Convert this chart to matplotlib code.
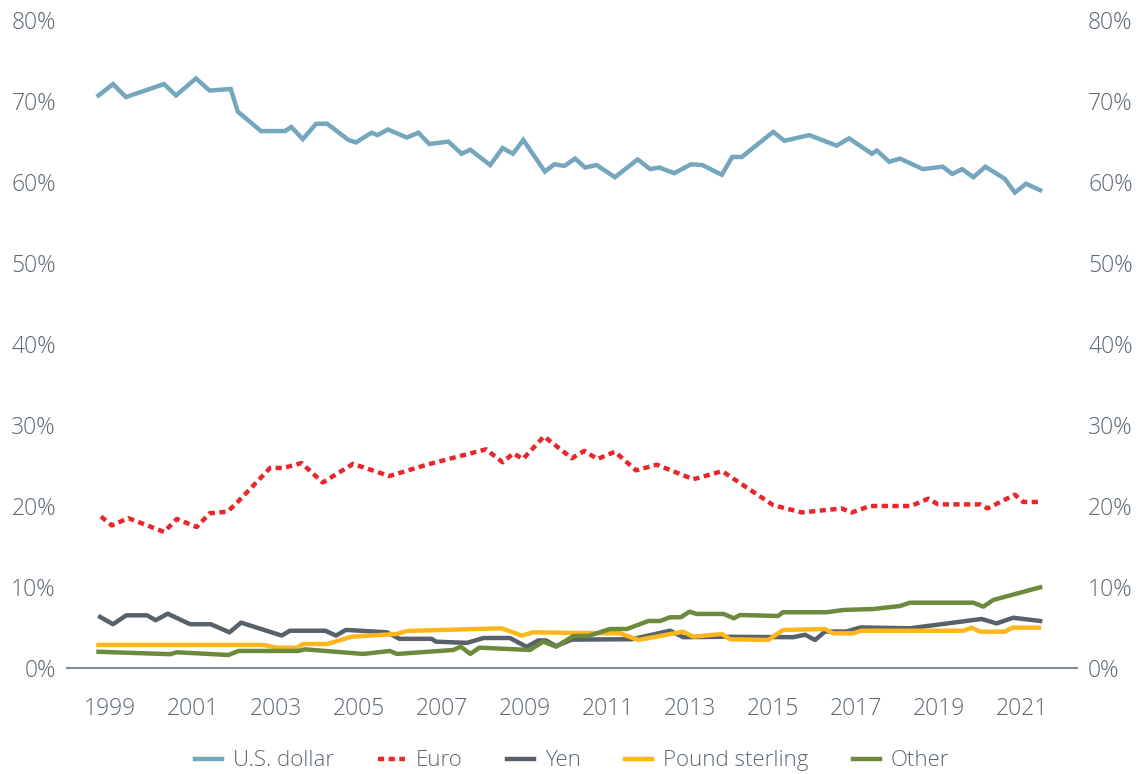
import matplotlib.pyplot as plt
from matplotlib.ticker import FuncFormatter

plt.rcParams['font.family'] = ['Open Sans', 'DejaVu Sans']
plt.rcParams['font.weight'] = 'light'

# share of allocated reserves (%), vertices
usd_x = [1998.72, 1999.07, 1999.38, 2000.30, 2000.59, 2001.07, 2001.40, 2001.91, 2002.08, 2002.64,
         2003.22, 2003.37, 2003.65, 2003.97, 2004.24, 2004.75, 2004.93, 2005.31, 2005.45, 2005.70,
         2006.16, 2006.44, 2006.70, 2007.16, 2007.48, 2007.69, 2008.17, 2008.47, 2008.72, 2008.97,
         2009.49, 2009.72, 2009.96, 2010.22, 2010.46, 2010.74, 2011.18, 2011.73, 2012.03, 2012.25,
         2012.61, 2013.02, 2013.29, 2013.76, 2014.01, 2014.24, 2015.00, 2015.27, 2015.87, 2016.53,
         2016.83, 2017.38, 2017.50, 2017.80, 2018.06, 2018.61, 2019.09, 2019.32, 2019.56, 2019.83,
         2020.12, 2020.59, 2020.83, 2021.10, 2021.44]
usd_y = [70.7, 72.1, 70.5, 72.1, 70.7, 72.8, 71.3, 71.5, 68.7, 66.3,
         66.3, 66.8, 65.3, 67.2, 67.2, 65.2, 64.9, 66.1, 65.8, 66.5,
         65.5, 66.1, 64.7, 65.0, 63.5, 64.0, 62.1, 64.2, 63.5, 65.2,
         61.3, 62.2, 62.0, 62.9, 61.8, 62.1, 60.6, 62.8, 61.6, 61.8,
         61.1, 62.2, 62.1, 60.9, 63.1, 63.1, 66.2, 65.1, 65.8, 64.5,
         65.4, 63.5, 63.9, 62.5, 62.9, 61.6, 61.9, 61.0, 61.6, 60.6,
         61.9, 60.4, 58.7, 59.8, 59.0]

eur_x = [1998.78, 1999.04, 1999.44, 2000.30, 2000.61, 2001.09, 2001.40, 2001.83, 2002.06, 2002.86,
         2003.18, 2003.62, 2004.13, 2004.86, 2005.74, 2006.64, 2008.07, 2008.47, 2008.73, 2008.96,
         2009.47, 2010.14, 2010.44, 2010.76, 2011.18, 2011.69, 2012.19, 2013.07, 2013.77, 2015.00,
         2015.69, 2016.65, 2016.89, 2017.34, 2018.32, 2018.74, 2018.98, 2019.99, 2020.17, 2020.83,
         2021.03, 2021.40]
eur_y = [18.7, 17.6, 18.5, 16.8, 18.4, 17.4, 19.1, 19.3, 20.4, 24.7,
         24.7, 25.3, 22.9, 25.2, 23.7, 25.1, 27.0, 25.4, 26.5, 25.8,
         28.6, 25.9, 26.8, 25.8, 26.7, 24.4, 25.1, 23.3, 24.3, 20.1,
         19.2, 19.7, 19.2, 20.0, 20.0, 20.9, 20.2, 20.2, 19.7, 21.4,
         20.5, 20.5]

jpy_x = [1998.76, 1999.07, 1999.39, 1999.89, 2000.10, 2000.39, 2000.93, 2001.43, 2001.88, 2002.16,
         2003.14, 2003.34, 2004.19, 2004.45, 2004.69, 2005.68, 2005.98, 2006.76, 2006.86, 2007.61,
         2008.01, 2008.65, 2009.05, 2009.33, 2009.52, 2009.76, 2010.14, 2011.59, 2012.51, 2012.83,
         2013.80, 2015.48, 2015.77, 2016.01, 2016.25, 2016.77, 2017.10, 2018.30, 2020.03, 2020.39,
         2020.79, 2021.44]
jpy_y = [6.3, 5.4, 6.5, 6.5, 5.9, 6.7, 5.4, 5.4, 4.4, 5.6,
         4.0, 4.6, 4.6, 4.0, 4.7, 4.4, 3.6, 3.6, 3.25, 3.1,
         3.7, 3.7, 2.6, 3.4, 3.4, 2.7, 3.5, 3.55, 4.6, 3.8,
         3.85, 3.8, 4.1, 3.45, 4.5, 4.5, 5.0, 4.9, 6.05, 5.5,
         6.2, 5.8]

gbp_x = [1998.72, 2002.70, 2003.02, 2003.50, 2003.66, 2004.24, 2004.83, 2005.92, 2006.16, 2008.45,
         2008.93, 2009.21, 2010.62, 2011.30, 2011.75, 2012.83, 2013.07, 2013.76, 2013.96, 2014.88,
         2015.24, 2016.25, 2016.45, 2016.93, 2017.13, 2019.59, 2019.79, 2019.99, 2020.59, 2020.77,
         2021.41]
gbp_y = [2.84, 2.84, 2.5, 2.5, 2.96, 2.96, 3.86, 4.2, 4.57, 4.9,
         4.0, 4.4, 4.3, 4.28, 3.46, 4.48, 3.86, 4.2, 3.54, 3.46,
         4.69, 4.81, 4.28, 4.28, 4.6, 4.6, 4.98, 4.48, 4.48, 4.98,
         4.98]

oth_x = [1998.72, 2000.45, 2000.61, 2001.85, 2002.10, 2003.54, 2003.70, 2005.11, 2005.75, 2005.92,
         2007.28, 2007.46, 2007.69, 2007.91, 2009.13, 2009.45, 2009.76, 2010.18, 2010.54, 2011.06,
         2011.47, 2011.99, 2012.27, 2012.51, 2012.77, 2012.98, 2013.15, 2013.80, 2014.05, 2014.20,
         2015.12, 2015.23, 2016.29, 2016.69, 2017.41, 2018.06, 2018.30, 2019.83, 2020.07, 2020.31,
         2021.44]
oth_y = [2.0, 1.7, 1.94, 1.6, 2.1, 2.1, 2.3, 1.73, 2.1, 1.73,
         2.22, 2.63, 1.73, 2.51, 2.22, 3.25, 2.63, 3.95, 3.95, 4.81,
         4.81, 5.8, 5.8, 6.26, 6.26, 6.95, 6.67, 6.67, 6.14, 6.54,
         6.42, 6.88, 6.88, 7.16, 7.28, 7.65, 8.06, 8.06, 7.57, 8.4,
         9.96]

years = list(range(1999, 2022, 2))
yticks = list(range(0, 81, 10))

tick_col = '#5b6874'

fig = plt.figure(figsize=(11.38, 7.74), dpi=100)
ax = fig.add_axes([0.0589, 0.137, 0.8875, 0.837])

lw = 3.2
ax.plot(usd_x, usd_y, color='#74a6be', lw=lw, label='U.S. dollar', solid_joinstyle='miter')
ax.plot(eur_x, eur_y, color='#e8262b', lw=lw, ls=(0, (1.4, 1.0)), label='Euro')
ax.plot(jpy_x, jpy_y, color='#56616c', lw=lw, label='Yen')
ax.plot(gbp_x, gbp_y, color='#fdb71c', lw=lw, label='Pound sterling')
ax.plot(oth_x, oth_y, color='#6b8a3b', lw=lw, label='Other')

ax.set_xlim(1997.96, 2022.33)
ax.set_ylim(0, 80)
ax.set_xticks(years)
ax.set_yticks(yticks)
ax.yaxis.set_major_formatter(FuncFormatter(lambda v, p: '%d%%' % v))

for s in ['top', 'left', 'right']:
    ax.spines[s].set_visible(False)
ax.spines['bottom'].set_color('#808d9a')
ax.spines['bottom'].set_linewidth(1.5)

ax.tick_params(axis='both', length=0, labelsize=16.5, labelcolor=tick_col)
ax.tick_params(axis='y', labelright=True, pad=8)
ax.tick_params(axis='x', pad=21)

ax.legend(loc='center', bbox_to_anchor=(0.5, -0.1436), ncol=5, frameon=False,
          fontsize=16, labelcolor=tick_col, handlelength=1.2, handletextpad=0.5,
          columnspacing=2.0)

fig.savefig('out.png', dpi=100)
